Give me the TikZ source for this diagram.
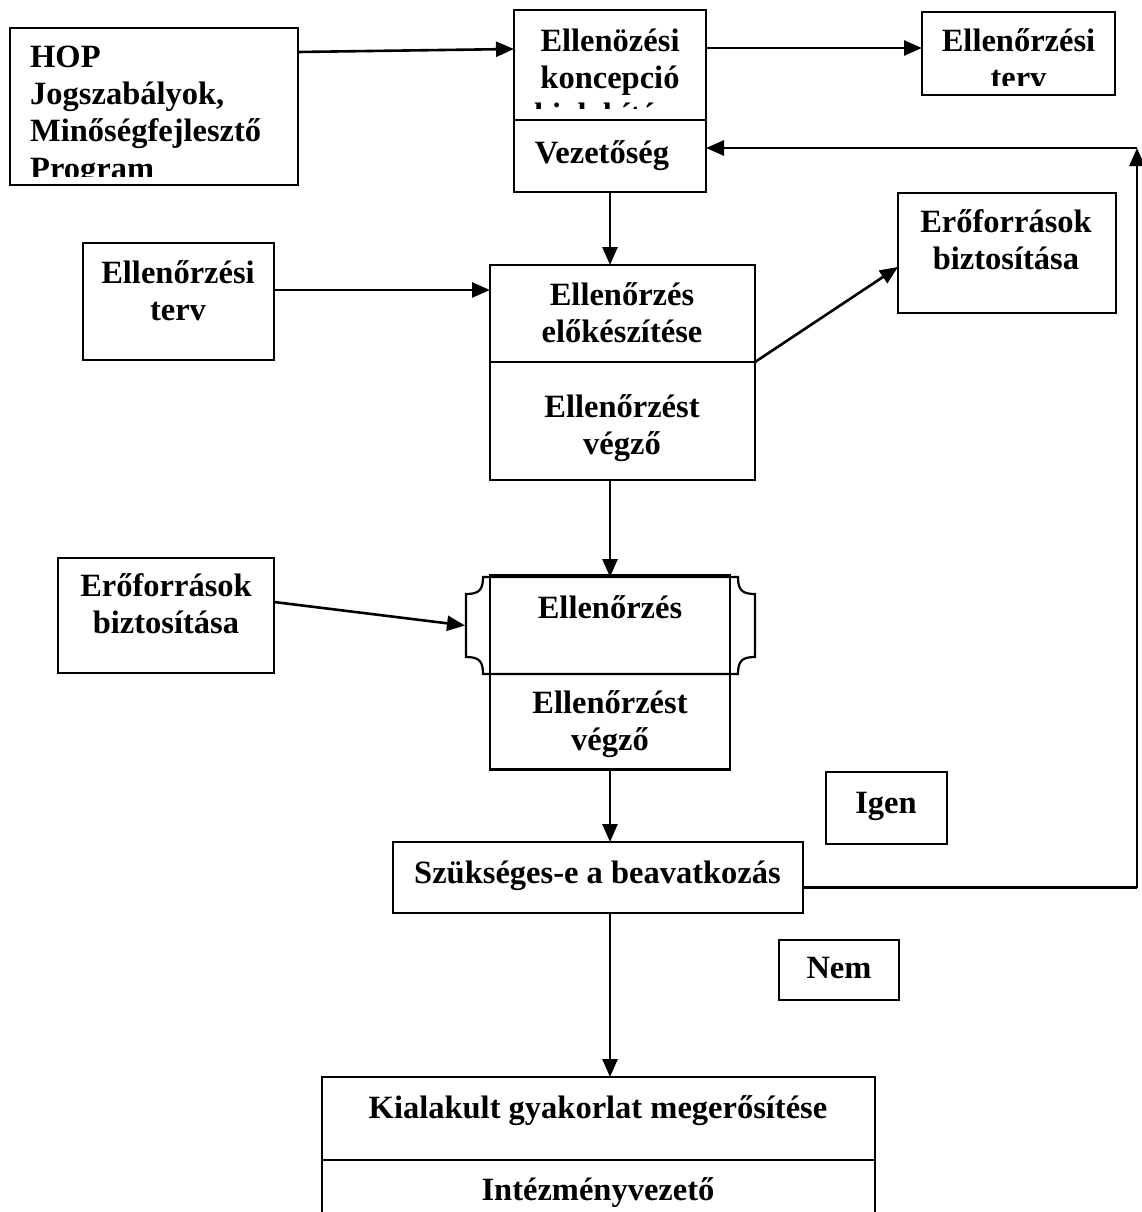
\documentclass[tikz,border=0pt]{standalone}
\usepackage{fontspec}
\setmainfont{Liberation Serif}
\usetikzlibrary{arrows.meta,calc}
\tikzset{
  box/.style={draw, line width=2.2pt, inner sep=0pt, outer sep=0pt, rectangle},
  ghost/.style={inner sep=0pt, outer sep=0pt, rectangle},
  lbl/.style={inner sep=0pt, font=\bfseries\fontsize{32.5}{37}\selectfont, anchor=base},
  lbll/.style={lbl, anchor=base west},
  arr/.style={line width=2.6pt, -{Triangle[length=18pt,width=15pt]}},
  ln/.style={line width=2.6pt}
}
\begin{document}
\begin{tikzpicture}[x=1pt,y=-1pt]
\clip (0,0) rectangle (1142,1212);
\fill[white] (0,0) rectangle (1142,1212);

% boxes
\node[box, minimum width=288pt, minimum height=157pt] (hop) at (154,106.5) {};
\node[box, minimum width=192pt, minimum height=110pt] (konc) at (610,65) {};
\node[box, minimum width=192pt, minimum height=72pt] (vez) at (610,156) {};
\node[box, minimum width=193pt, minimum height=83pt] (tervR) at (1018.5,53.5) {};
\node[box, minimum width=191pt, minimum height=117pt] (tervL) at (178.5,301.5) {};
\node[box, minimum width=265pt, minimum height=97pt] (elok) at (622.5,313.5) {};
\node[box, minimum width=265pt, minimum height=118pt] (vegz1) at (622.5,421) {};
\node[box, minimum width=218pt, minimum height=120pt] (erofR) at (1007,253) {};
\node[box, minimum width=216pt, minimum height=115pt] (erofL) at (166,615.5) {};
\node[ghost, minimum width=290pt, minimum height=97pt] (ell) at (610,625.5) {};
\node[box, minimum width=240pt, minimum height=194pt] (vegz2) at (610,672.5) {};
\node[box, minimum width=410pt, minimum height=71pt] (szuk) at (598,877.5) {};
\node[box, minimum width=121pt, minimum height=72pt] (igen) at (886.5,808) {};
\node[box, minimum width=120pt, minimum height=60pt] (nem) at (839,970) {};
\node[box, minimum width=553pt, minimum height=83pt] (kial) at (598.5,1118.5) {};
\node[box, minimum width=553pt, minimum height=80pt] (intez) at (598.5,1200) {};

% plaque shape of "Ellenorzes"
\draw[line width=2.2pt, fill=white] (483,577) -- (738,577)
  .. controls (738,590) and (742,594) .. (755,594) -- (755,657)
  .. controls (742,657) and (738,661) .. (738,674) -- (483,674)
  .. controls (483,661) and (479,657) .. (466,657) -- (466,594)
  .. controls (479,594) and (483,590) .. (483,577) -- cycle;
\draw[line width=2.2pt] (490,577) -- (490,674) (730,577) -- (730,674);

% texts
\begin{scope}
\clip (12,30) rectangle (296,176);
\node[lbll] (t1) at (30,68) {HOP};
\node[lbll] (t2) at (30,105) {Jogszabályok,};
\node[lbll] (t3) at (30,142) {Minőségfejlesztő};
\node[lbll] (t4) at (30,179) {Program};
\end{scope}
\begin{scope}
\clip (516,12) rectangle (704,109);
\node[lbl] (t5) at (610,52) {Ellenözési};
\node[lbl] (t6) at (610,89) {koncepció};
\node[lbl] (t7) at (610,126) {kialakítása};
\end{scope}
\node[lbl] (t8) at (602,163) {Vezetőség};
\begin{scope}
\clip (924,14) rectangle (1113,86);
\node[lbl] (t9) at (1018.5,52) {Ellenőrzési};
\node[lbl] (t10) at (1018.5,89) {terv};
\end{scope}
\node[lbl] (t11) at (178,283) {Ellenőrzési};
\node[lbl] (t12) at (178,320) {terv};
\node[lbl] (t13) at (622,305) {Ellenőrzés};
\node[lbl] (t14) at (622,342) {előkészítése};
\node[lbl] (t15) at (622,417) {Ellenőrzést};
\node[lbl] (t16) at (622,454) {végző};
\node[lbl] (t17) at (1006,232) {Erőforrások};
\node[lbl] (t18) at (1006,269) {biztosítása};
\node[lbl] (t19) at (166,596) {Erőforrások};
\node[lbl] (t20) at (166,633) {biztosítása};
\node[lbl] (t21) at (610,618) {Ellenőrzés};
\node[lbl] (t22) at (610,713) {Ellenőrzést};
\node[lbl] (t23) at (610,750) {végző};
\node[lbl] (t24) at (597.5,883) {Szükséges-e a beavatkozás};
\node[lbl] (t25) at (886,813) {Igen};
\node[lbl] (t26) at (839,978) {Nem};
\node[lbl] (t27) at (598,1118) {Kialakult gyakorlat megerősítése};
\node[lbl] (t28) at (598,1200) {Intézményvezető};

% connectors
\draw[arr] ([yshift=-24pt]hop.north east) -- ([yshift=-39pt]konc.north west);
\draw[arr] ([yshift=-38pt]konc.north east) -- ([yshift=-36pt]tervR.north west);
\draw[arr] (vez.south) -- (vez.south |- elok.north);
\draw[arr] ([yshift=-47pt]tervL.north east) -- ([yshift=-47pt]tervL.north east -| elok.west);
\draw[arr] (elok.south east) -- ([yshift=-74pt]erofR.north west);
\draw[arr] (vegz1.south -| ell.north) -- (ell.north);
\draw[arr] ([yshift=-44pt]erofL.north east) -- (ell.west);
\draw[arr] (vegz2.south) -- (vegz2.south |- szuk.north);
\draw[arr] (szuk.south -| vegz2.south) -- (kial.north -| vegz2.south);
\coordinate (fb1) at (1137,887.5);
\coordinate (fb2) at (1137,148);
\draw[ln] ([yshift=-10pt]szuk.east) -- (fb1);
\draw[arr] (fb1) -- (fb2);
\draw[arr] (fb2) -- (fb2 -| vez.east);
\end{tikzpicture}
\end{document}
